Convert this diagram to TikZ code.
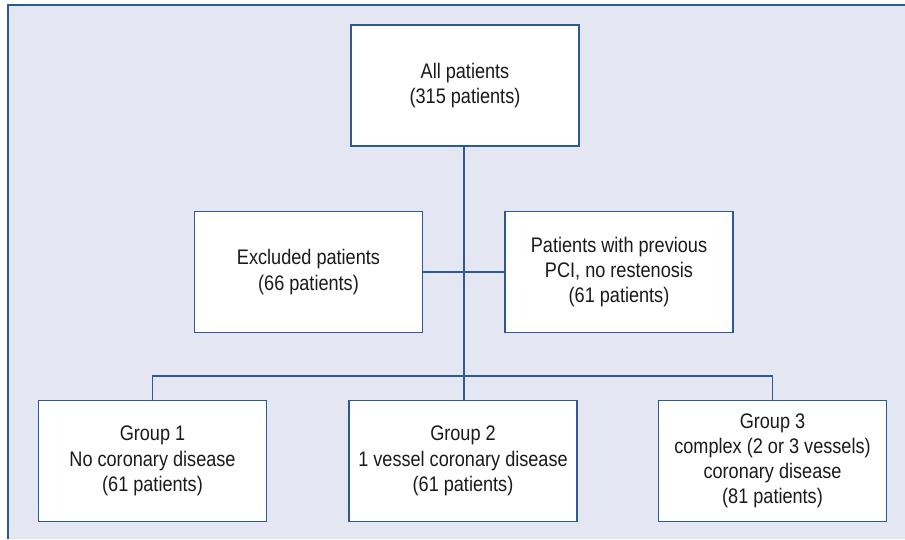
\documentclass[tikz,border=0pt]{standalone}
\usepackage{fontspec}
\setmainfont{Liberation Sans}[FakeStretch=0.86]
\definecolor{bgc}{HTML}{E4E6F2}
\definecolor{lnc}{HTML}{2B5A98}
\definecolor{txc}{HTML}{1A1A1A}
\begin{document}
\begin{tikzpicture}[x=0.75pt,y=-0.75pt,
  box/.style={draw=lnc, fill=white, line width=1.2pt, minimum width=171pt, minimum height=90.5pt,
    inner sep=0pt, align=center, text=txc, font=\fontsize{15.8}{18.9}\selectfont},
  conn/.style={draw=lnc, line width=1.1pt}]
\useasboundingbox (0,0) rectangle (905,539);
\fill[bgc] (8,5) rectangle (905,539);
\draw[lnc, line width=1.1pt] (8,539) -- (8,5) -- (905,5);
\node[box] (all) at (465,85.5) {All patients\\(315 patients)};
\node[box] (excl) at (308.5,272) {Excluded patients\\(66 patients)};
\node[box] (prev) at (619,272) {Patients with previous\\PCI, no restenosis\\(61 patients)};
\node[box] (g1) at (152.5,461) {Group 1\\No coronary disease\\(61 patients)};
\node[box] (g2) at (463,461) {Group 2\\1 vessel coronary disease\\(61 patients)};
\node[box] (g3) at (772.5,461) {Group 3\\complex (2 or 3 vessels)\\coronary disease\\(81 patients)};
\coordinate (split) at (464,376);
\draw[conn] (all.south -| split) -- (g2.north -| split);
\draw[conn] (excl.east) -- (prev.west);
\draw[conn] (g1.north) -- (g1.north |- split) -- (g3.north |- split) -- (g3.north);
\end{tikzpicture}
\end{document}
